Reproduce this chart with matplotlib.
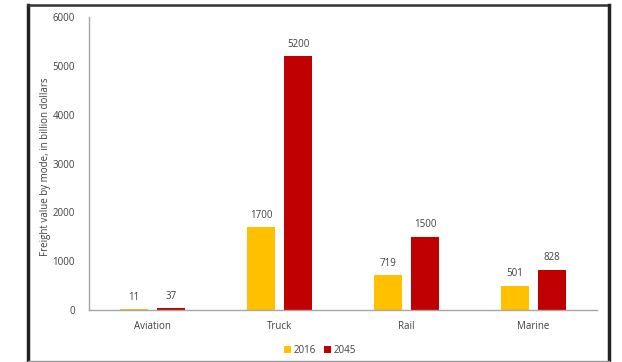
import matplotlib
matplotlib.use("Agg")
import matplotlib.pyplot as plt
from matplotlib.lines import Line2D
import numpy as np

modes = ["Aviation", "Truck", "Rail", "Marine"]
values_2016 = [11, 1700, 719, 501]
values_2045 = [37, 5200, 1500, 828]
series_labels = ["2016", "2045"]
yticks = [0, 1000, 2000, 3000, 4000, 5000, 6000]

plt.rcParams["font.family"] = ["Open Sans", "DejaVu Sans"]
text_color = "#404040"

fig = plt.figure(figsize=(6.22, 3.62), dpi=100)
ax = fig.add_axes([0.143, 0.1436, 0.817, 0.8094])

x = np.arange(len(modes))
w = 0.22
off = 0.146
b1 = ax.bar(x - off, values_2016, w, color="#FFC000", label=series_labels[0])
b2 = ax.bar(x + off, values_2045, w, color="#C00000", label=series_labels[1])

for bars, vals in ((b1, values_2016), (b2, values_2045)):
    for r, v in zip(bars, vals):
        ax.text(r.get_x() + r.get_width() / 2, v + 130, f"{v}",
                ha="center", va="bottom", fontsize=7, color=text_color)

ax.set_xlim(-0.5, len(modes) - 0.5)
ax.set_ylim(0, 6000)
ax.set_yticks(yticks)
ax.set_yticklabels([str(t) for t in yticks], fontsize=7, color=text_color)
ax.set_xticks(x)
ax.set_xticklabels(modes, fontsize=7, color=text_color)
ax.tick_params(axis="both", length=0, pad=8)
ax.tick_params(axis="y", pad=10)
for s in ("top", "right"):
    ax.spines[s].set_visible(False)
for s in ("left", "bottom"):
    ax.spines[s].set_color("#A6A6A6")
    ax.spines[s].set_linewidth(1.0)

ax.set_ylabel("Freight value by mode, in billion dollars", fontsize=7,
              color=text_color)
ax.yaxis.set_label_coords(-0.075, 0.49)

ax.legend(loc="upper center", bbox_to_anchor=(0.455, -0.09), ncol=2, frameon=False,
          fontsize=7, handlelength=0.7, handleheight=0.7, handletextpad=0.3,
          columnspacing=0.8, labelcolor=text_color)

# outer frame
fig.add_artist(Line2D([28 / 622, 28 / 622], [0, 1 - 5 / 362], transform=fig.transFigure,
                      color="#222222", lw=2.5))
fig.add_artist(Line2D([28 / 622, 609 / 622], [1 - 5 / 362, 1 - 5 / 362], transform=fig.transFigure,
                      color="#333333", lw=1.8))
fig.add_artist(Line2D([609 / 622, 609 / 622], [0, 1 - 5 / 362], transform=fig.transFigure,
                      color="#222222", lw=2.5))
fig.add_artist(Line2D([28 / 622, 609 / 622], [1 / 362, 1 / 362], transform=fig.transFigure,
                      color="#999999", lw=1.0))

fig.savefig("out.png", dpi=100)
